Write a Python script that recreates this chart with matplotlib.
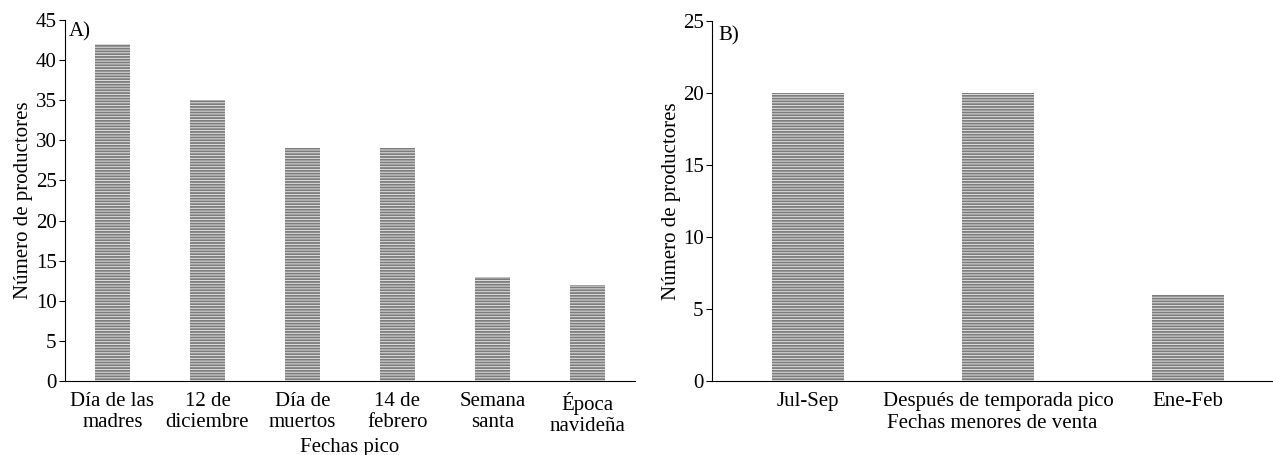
import matplotlib.pyplot as plt
import numpy as np

plt.rcParams['font.family'] = ['Liberation Serif', 'DejaVu Serif']
plt.rcParams['hatch.linewidth'] = 1.3
plt.rcParams['hatch.color'] = '#7c7c7c'

# Panel A: fechas pico
pico_labels = ['Día de las\nmadres', '12 de\ndiciembre', 'Día de\nmuertos', '14 de\nfebrero',
               'Semana\nsanta', 'Época\nnavideña']
pico_values = [42, 35, 29, 29, 13, 12]

# Panel B: fechas menores de venta
menor_labels = ['Jul-Sep', 'Después de temporada pico', 'Ene-Feb']
menor_values = [20, 20, 6]

fs = 15
W, H = 1273, 455

fig = plt.figure(figsize=(W / 100, H / 100), dpi=100)
ax1 = fig.add_axes([65 / W, 1 - 381 / H, (635 - 65) / W, (381 - 20) / H])
ax2 = fig.add_axes([712 / W, 1 - 381 / H, (1273 - 712) / W, (381 - 21) / H])


def striped_bars(ax, values, width):
    x = np.arange(len(values))
    ax.bar(x, values, width, color='#e2e2e2', hatch='------', linewidth=0)
    return x


x1 = striped_bars(ax1, pico_values, 0.37)
ax1.set_xlim(-0.5, 5.5)
ax1.set_ylim(0, 45)
ax1.set_yticks(np.arange(0, 46, 5))
ax1.set_xticks(x1)
ax1.set_xticklabels(pico_labels, linespacing=1.1)
ax1.set_xlabel('Fechas pico', fontsize=fs, labelpad=2)
ax1.set_ylabel('Número de productores', fontsize=fs, labelpad=2)
ax1.text(0.006, 0.995, 'A)', transform=ax1.transAxes, fontsize=fs, va='top', ha='left')

x2 = striped_bars(ax2, menor_values, 0.38)
ax2.set_xlim(-0.507, 2.45)
ax2.set_ylim(0, 25)
ax2.set_yticks(np.arange(0, 26, 5))
ax2.set_xticks(x2)
ax2.set_xticklabels(menor_labels)
ax2.set_xlabel('Fechas menores de venta', fontsize=fs, labelpad=2)
ax2.set_ylabel('Número de productores', fontsize=fs, labelpad=1)
ax2.text(0.011, 0.985, 'B)', transform=ax2.transAxes, fontsize=fs, va='top', ha='left')

for ax in (ax1, ax2):
    ax.spines['top'].set_visible(False)
    ax.spines['right'].set_visible(False)
    ax.tick_params(axis='y', labelsize=fs, length=4, pad=2)
    ax.tick_params(axis='x', labelsize=fs, length=0, pad=8)

plt.savefig('out.png')
